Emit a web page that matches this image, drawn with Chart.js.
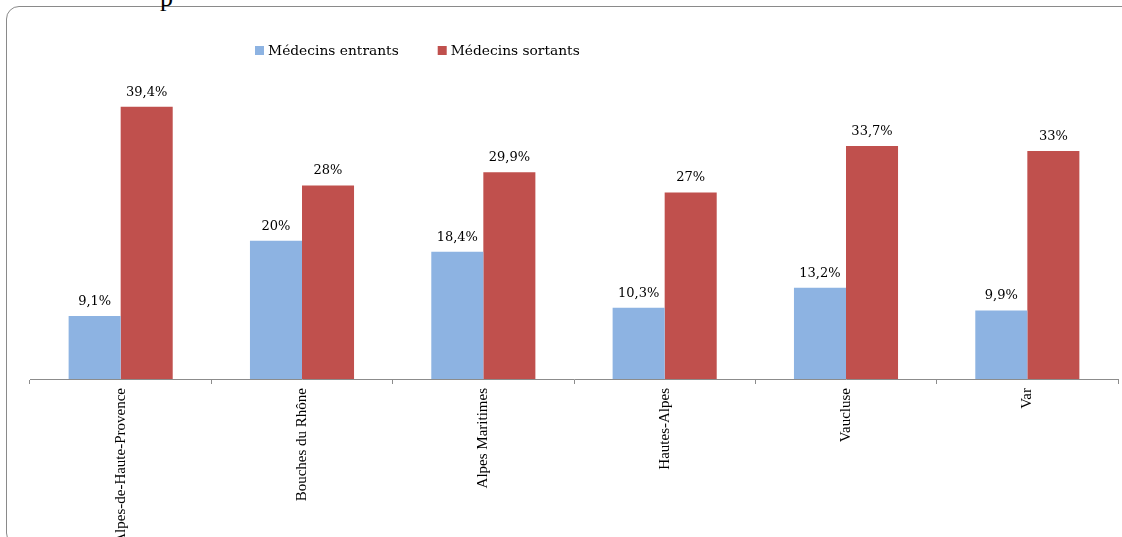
<!DOCTYPE html>
<html>
<head>
<meta charset="utf-8">
<script src="https://cdn.jsdelivr.net/npm/chart.js@4/dist/chart.umd.min.js"></script>
<style>
  html, body { margin: 0; padding: 0; background: #fff; overflow: hidden; }
  #wrap { position: relative; width: 1122px; height: 537px; overflow: hidden; }
  #frame { position: absolute; left: 6px; top: 6px; width: 1140px; height: 540px;
           border: 1.5px solid #8a8a8a; border-radius: 13px; box-sizing: border-box; }
  #titlefrag { position: absolute; left: 160px; top: -17px; font: 26px "Liberation Serif", serif; color: #000; }
  canvas { position: absolute; left: 0; top: 0; }
</style>
</head>
<body>
<div id="wrap">
  <div id="frame"></div>
  <div id="titlefrag">p</div>
  <canvas id="c" width="1122" height="537"></canvas>
</div>
<script>
const categories = ["Alpes-de-Haute-Provence", "Bouches du Rhône", "Alpes Maritimes", "Hautes-Alpes", "Vaucluse", "Var"];
const entrants = [9.1, 20, 18.4, 10.3, 13.2, 9.9];
const sortants = [39.4, 28, 29.9, 27, 33.7, 33];
const seriesNames = ["Médecins entrants", "Médecins sortants"];
const seriesColors = ["#8db3e2", "#c0504d"];
const fmt = v => String(v).replace(".", ",") + "%";

const legendPlugin = {
  id: "customLegend",
  afterDraw(chart) {
    const ctx = chart.ctx;
    ctx.save();
    ctx.font = '13.8px "DejaVu Serif", serif';
    ctx.textBaseline = "middle";
    ctx.textAlign = "left";
    let x = 255;
    const y = 51;
    seriesNames.forEach((name, i) => {
      ctx.fillStyle = seriesColors[i];
      ctx.fillRect(x, y - 5, 9, 9);
      ctx.fillStyle = "#000";
      ctx.fillText(name, x + 13, y);
      x += 13 + ctx.measureText(name).width + 39;
    });
    ctx.restore();
  }
};

const labelPlugin = {
  id: "valueLabels",
  afterDatasetsDraw(chart) {
    const ctx = chart.ctx;
    ctx.save();
    ctx.font = '13px "DejaVu Serif", serif';
    ctx.fillStyle = "#000";
    ctx.textAlign = "center";
    ctx.textBaseline = "middle";
    chart.data.datasets.forEach((ds, di) => {
      chart.getDatasetMeta(di).data.forEach((el, i) => {
        ctx.fillText(fmt(ds.data[i]), el.x, el.y - 14.5);
      });
    });
    ctx.restore();
  }
};

new Chart(document.getElementById("c"), {
  type: "bar",
  data: {
    labels: categories,
    datasets: [
      { label: seriesNames[0], data: entrants, backgroundColor: seriesColors[0], categoryPercentage: 0.574, barPercentage: 1 },
      { label: seriesNames[1], data: sortants, backgroundColor: seriesColors[1], categoryPercentage: 0.574, barPercentage: 1 }
    ]
  },
  options: {
    responsive: false,
    animation: false,
    layout: { padding: { left: 30, right: 4, top: 68, bottom: 0 } },
    plugins: { legend: { display: false }, tooltip: { enabled: false } },
    scales: {
      y: { display: false, min: 0, max: 45 },
      x: {
        afterFit(s) { s.height = 158; },
        border: { display: true, color: "#8c8c8c", width: 1 },
        grid: { display: true, drawOnChartArea: false, drawTicks: true, tickLength: 5, color: "#8c8c8c", offset: true },
        ticks: { maxRotation: 90, minRotation: 90, padding: 4, color: "#000", autoSkip: false,
                 font: { family: '"Liberation Serif", serif', size: 15 } }
      }
    }
  },
  plugins: [legendPlugin, labelPlugin]
});
</script>
</body>
</html>
